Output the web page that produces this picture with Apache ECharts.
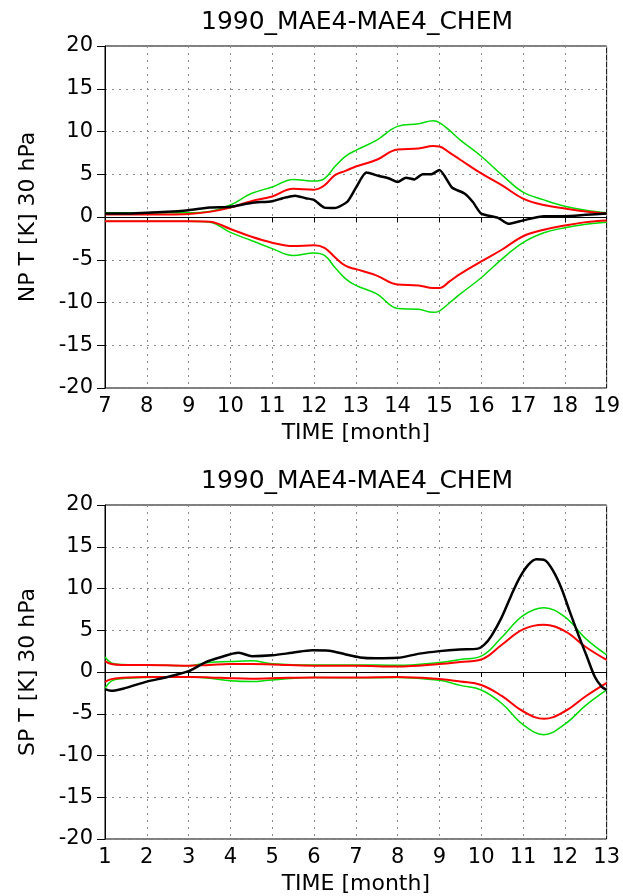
<!DOCTYPE html>
<html>
<head>
<meta charset="utf-8">
<script src="https://cdn.jsdelivr.net/npm/echarts@6/dist/echarts.min.js"></script>
<style>html,body{margin:0;padding:0;background:#fff}#c{width:623px;height:896px}</style>
</head>
<body>
<div id="c"></div>
<script>
// ---- texts ----
const titleTop = '1990_MAE4-MAE4_CHEM';
const titleBottom = '1990_MAE4-MAE4_CHEM';
const yNameTop = 'NP T [K] 30 hPa';
const yNameBottom = 'SP T [K] 30 hPa';
const xName = 'TIME [month]';

// ---- top panel (NP) ----
const npEnvTime = [7,7.5,8,8.5,9,9.5,10,10.5,11,11.5,12,12.25,12.5,12.75,13,13.5,14,14.5,14.85,15,15.25,15.5,16,16.5,17,17.5,18,18.5,19];
const npGreenUp = [0.5,0.5,0.5,0.5,0.5,0.65,1.4,2.75,3.5,4.4,4.2,4.5,5.9,7.1,7.8,9.0,10.6,10.9,11.25,11.05,10.1,9.0,7.1,4.9,2.9,2.0,1.25,0.8,0.5];
const npRedUp = [0.3,0.3,0.3,0.3,0.35,0.6,1.1,1.85,2.4,3.3,3.2,3.7,4.9,5.4,5.9,6.7,7.9,8.0,8.3,8.25,7.5,6.7,5.1,3.7,2.15,1.4,1.0,0.65,0.4];
const npRedLo = [-0.5,-0.5,-0.5,-0.5,-0.5,-0.55,-1.4,-2.3,-3.0,-3.4,-3.3,-3.6,-4.7,-5.7,-6.1,-6.85,-7.9,-8.0,-8.3,-8.3,-7.5,-6.65,-5.2,-3.8,-2.25,-1.5,-1.0,-0.6,-0.4];
const npGreenLo = [-0.5,-0.5,-0.5,-0.5,-0.5,-0.6,-1.8,-2.75,-3.7,-4.5,-4.2,-4.5,-5.9,-7.2,-8.0,-9.0,-10.7,-10.8,-11.15,-11.0,-10.0,-9.0,-7.1,-4.9,-3.0,-1.85,-1.25,-0.85,-0.6];
const npDiffTime = [7,7.5,8,8.5,9,9.5,10,10.5,11,11.25,11.55,11.8,12,12.25,12.5,12.8,13,13.25,13.55,13.8,14,14.2,14.4,14.6,14.8,15,15.3,15.6,15.8,16,16.4,16.65,17,17.5,18,18.5,19];
const npDiff = [0.4,0.4,0.5,0.6,0.8,1.1,1.2,1.65,1.85,2.2,2.5,2.2,2.0,1.1,1.05,1.8,3.4,5.2,4.8,4.5,4.1,4.6,4.4,5.0,5.0,5.5,3.45,2.75,1.75,0.4,-0.1,-0.8,-0.4,0.1,0.1,0.25,0.4];

// ---- bottom panel (SP) ----
const spEnvTime = [1,1.15,1.4,2,3,3.5,4,4.5,5,6,7,8,9,9.5,10,10.5,11,11.5,12,12.5,13];
const spGreenUp = [1.8,1.1,0.9,0.85,0.75,1.15,1.25,1.35,1.0,0.85,0.85,0.8,1.15,1.5,1.9,4.2,6.75,7.7,6.6,4.0,2.05];
const spRedUp = [1.3,0.95,0.85,0.85,0.75,0.85,0.95,0.95,0.9,0.75,0.75,0.65,0.95,1.2,1.5,3.3,5.1,5.65,4.9,3.0,1.45];
const spRedLo = [-1.2,-0.85,-0.7,-0.6,-0.6,-0.65,-0.75,-0.8,-0.75,-0.65,-0.65,-0.6,-0.85,-1.15,-1.55,-2.9,-4.7,-5.6,-4.7,-2.9,-1.3];
const spGreenLo = [-1.95,-1.1,-0.8,-0.65,-0.6,-0.75,-1.05,-1.15,-0.95,-0.65,-0.7,-0.65,-1.0,-1.6,-2.15,-3.8,-6.3,-7.5,-6.25,-4.0,-2.15];
const spDiffTime = [1,1.15,1.5,2,2.45,3,3.4,3.72,4.2,4.52,5,5.48,5.96,6.36,6.76,7.1,7.47,8,8.52,9,9.48,9.92,10.08,10.24,10.48,10.72,10.92,11.12,11.32,11.52,11.72,11.92,12.12,12.32,12.52,12.72,12.88,13];
const spDiff = [-2.05,-2.25,-1.9,-1.15,-0.65,0.1,1.15,1.7,2.3,1.9,2.0,2.3,2.6,2.55,2.1,1.75,1.65,1.7,2.2,2.5,2.7,2.8,3.3,4.3,6.45,9.2,11.3,12.8,13.5,13.4,12.1,10.0,7.2,4.5,1.95,-0.6,-1.75,-2.15];

// ---- axis ranges ----
const npXRange = [7, 19];
const spXRange = [1, 13];
const yRange = [-20, 20];

const FONT = 'DejaVu Sans';
const GREEN = '#00dc00';
const RED = '#ff0000';

function pairs(xs, ys) { return xs.map((x, i) => [x, ys[i]]); }

function xAxisCfg(grid, range) {
  return {
    type: 'value', gridIndex: grid, min: range[0], max: range[1], interval: 1,
    name: xName, nameLocation: 'middle', nameGap: 34,
    nameTextStyle: { fontFamily: FONT, fontSize: 22, color: '#000' },
    axisLine: { lineStyle: { color: '#000', width: 1 } },
    axisTick: { show: true, inside: false, length: 5, lineStyle: { color: '#000' } },
    axisLabel: { fontFamily: FONT, fontSize: 21, color: '#000', margin: 8 },
    splitLine: { show: true, lineStyle: { color: '#8a8a8a', width: 1, type: [2, 5] } }
  };
}
function yAxisCfg(grid, name) {
  return {
    type: 'value', gridIndex: grid, min: yRange[0], max: yRange[1], interval: 5,
    name: name, nameLocation: 'middle', nameGap: 66, nameRotate: 90,
    nameTextStyle: { fontFamily: FONT, fontSize: 22, color: '#000' },
    axisLine: { show: true, lineStyle: { color: '#000', width: 1 } },
    axisTick: { show: true, inside: false, length: 8, lineStyle: { color: '#000' } },
    axisLabel: { fontFamily: FONT, fontSize: 21, color: '#000', margin: 12 },
    splitLine: { show: true, lineStyle: { color: '#8a8a8a', width: 1, type: [2, 5] } }
  };
}
function line(grid, xs, ys, color, width, smooth) {
  return {
    type: 'line', xAxisIndex: grid, yAxisIndex: grid, data: pairs(xs, ys),
    showSymbol: false, smooth: smooth, silent: true, animation: false,
    lineStyle: { color: color, width: width }
  };
}

const chart = echarts.init(document.getElementById('c'));
chart.setOption({
  animation: false,
  backgroundColor: '#fff',
  graphic: [
    { type: 'text', x: 357, y: 10, style: { text: titleTop, font: '25px "' + FONT + '"', fill: '#000', align: 'center', verticalAlign: 'top' } },
    { type: 'text', x: 357, y: 469, style: { text: titleBottom, font: '25px "' + FONT + '"', fill: '#000', align: 'center', verticalAlign: 'top' } }
  ],
  grid: [
    { left: 105, top: 46, width: 504, height: 342, show: true, borderColor: '#000', borderWidth: 1, backgroundColor: 'transparent' },
    { left: 105, top: 505, width: 504, height: 341, show: true, borderColor: '#000', borderWidth: 1, backgroundColor: 'transparent' }
  ],
  xAxis: [xAxisCfg(0, npXRange), xAxisCfg(1, spXRange)],
  yAxis: [yAxisCfg(0, yNameTop), yAxisCfg(1, yNameBottom)],
  series: [
    line(0, npEnvTime, npGreenUp, GREEN, 1.5, 0.4),
    line(0, npEnvTime, npGreenLo, GREEN, 1.5, 0.4),
    line(0, npEnvTime, npRedUp, RED, 2, 0.4),
    line(0, npEnvTime, npRedLo, RED, 2, 0.4),
    line(0, npDiffTime, npDiff, '#000', 2.5, 0.2),
    line(1, spEnvTime, spGreenUp, GREEN, 1.5, 0.4),
    line(1, spEnvTime, spGreenLo, GREEN, 1.5, 0.4),
    line(1, spEnvTime, spRedUp, RED, 2, 0.4),
    line(1, spEnvTime, spRedLo, RED, 2, 0.4),
    line(1, spDiffTime, spDiff, '#000', 2.5, 0.3)
  ]
});
</script>
</body>
</html>
